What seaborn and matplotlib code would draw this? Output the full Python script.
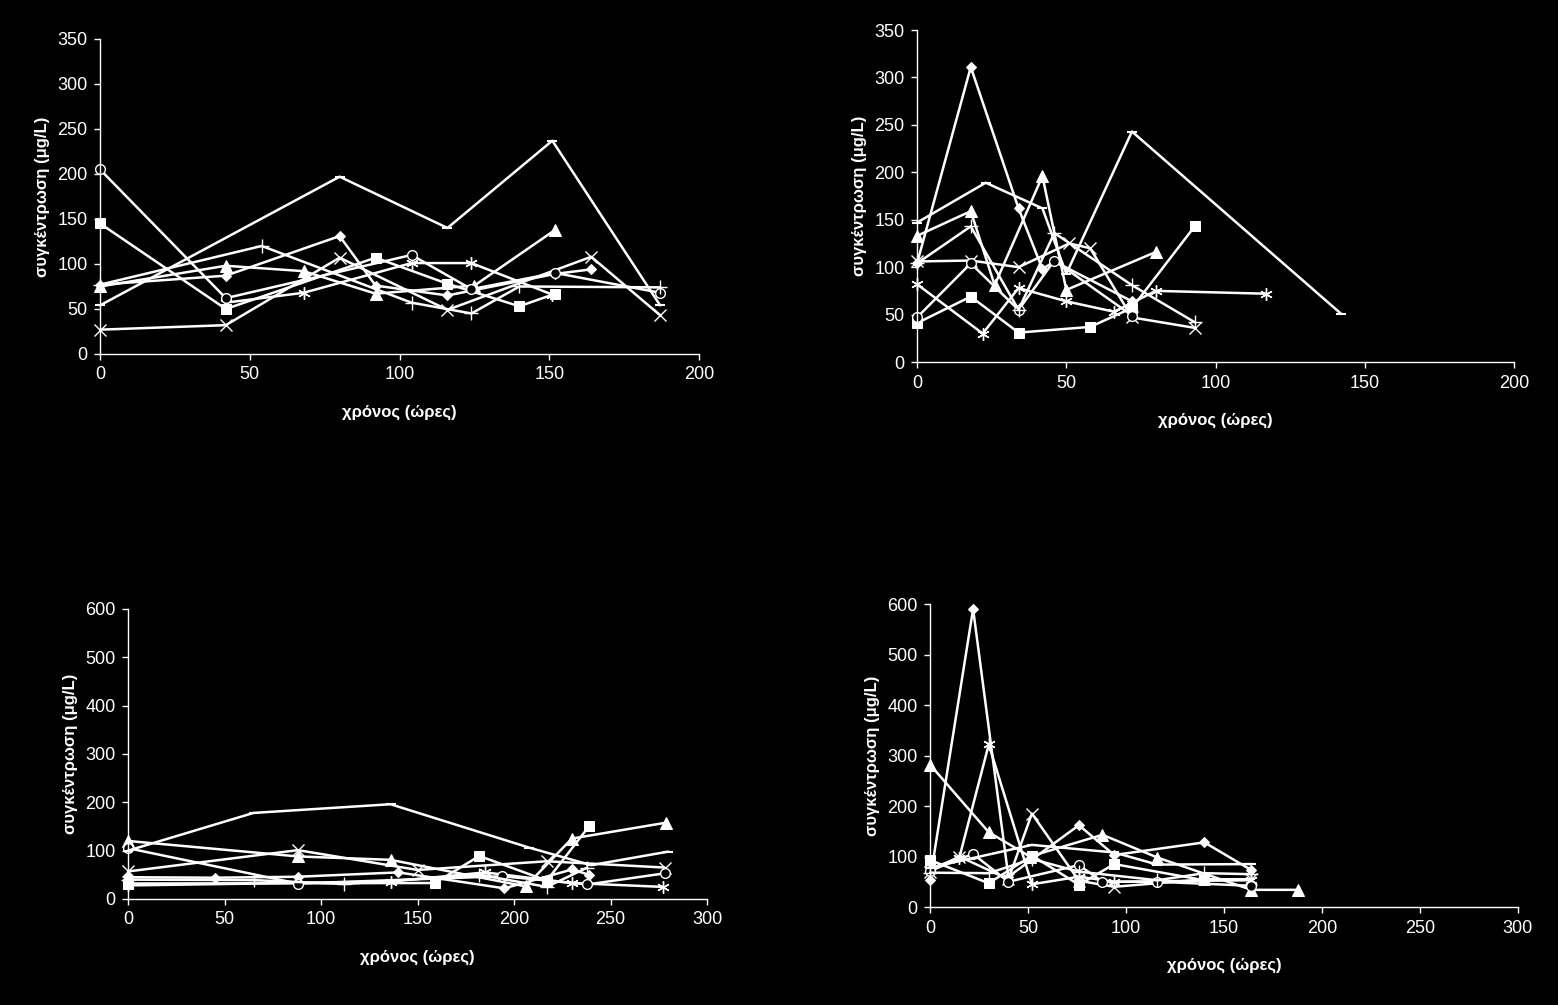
import matplotlib
matplotlib.use('Agg')
import matplotlib.pyplot as plt
import seaborn as sns

sns.set_style('dark')
plt.rcParams['font.family'] = ['Liberation Sans', 'DejaVu Sans']

# ---- panel 1 (top left) : time (h), concentration (ug/L) ----
p1_diamond_t = [0, 42, 80, 92, 116, 152, 164]
p1_diamond_c = [77, 87, 131, 76, 65, 89, 94]
p1_square_t = [0, 42, 92, 116, 140, 152]
p1_square_c = [145, 50, 107, 78, 53, 67]
p1_triangle_t = [0, 42, 68, 92, 125, 152]
p1_triangle_c = [75, 98, 92, 67, 76, 138]
p1_x_t = [0, 42, 80, 116, 164, 187]
p1_x_c = [27, 32, 107, 49, 108, 43]
p1_asterisk_t = [42, 68, 104, 124, 151]
p1_asterisk_c = [57, 68, 101, 101, 66]
p1_circle_t = [0, 42, 104, 124, 152, 187]
p1_circle_c = [205, 62, 110, 72, 90, 68]
p1_plus_t = [0, 54, 104, 124, 140, 187]
p1_plus_c = [77, 120, 57, 45, 75, 74]
p1_dash_t = [0, 80, 116, 151, 187]
p1_dash_c = [54, 197, 140, 237, 54]

# ---- panel 2 (top right) ----
p2_diamond_t = [0, 18, 34, 42, 46, 72]
p2_diamond_c = [104, 311, 162, 98, 106, 64]
p2_square_t = [0, 18, 34, 58, 72, 93]
p2_square_c = [41, 69, 31, 37, 57, 143]
p2_triangle_t = [0, 18, 26, 42, 50, 80]
p2_triangle_c = [133, 159, 81, 196, 76, 116]
p2_x_t = [0, 18, 34, 51, 58, 72, 93]
p2_x_c = [106, 107, 100, 125, 120, 47, 36]
p2_asterisk_t = [0, 22, 34, 50, 66, 80, 117]
p2_asterisk_c = [82, 30, 78, 64, 53, 75, 72]
p2_circle_t = [0, 18, 34, 46, 72]
p2_circle_c = [47, 104, 55, 107, 49]
p2_plus_t = [0, 18, 34, 46, 72, 93]
p2_plus_c = [104, 143, 55, 136, 81, 42]
p2_dash_t = [0, 23, 42, 50, 72, 142]
p2_dash_c = [147, 189, 162, 93, 243, 51]

# ---- panel 3 (bottom left) ----
p3_diamond_t = [0, 45, 88, 140, 195, 230, 239]
p3_diamond_c = [45, 44, 46, 55, 22, 61, 50]
p3_square_t = [0, 159, 182, 217, 239]
p3_square_c = [32, 33, 89, 38, 151]
p3_triangle_t = [0, 88, 136, 206, 230, 279]
p3_triangle_c = [120, 88, 81, 26, 125, 158]
p3_x_t = [0, 88, 150, 217, 278]
p3_x_c = [57, 101, 60, 78, 65]
p3_asterisk_t = [0, 136, 185, 230, 277]
p3_asterisk_c = [28, 36, 55, 33, 25]
p3_circle_t = [0, 88, 194, 238, 278]
p3_circle_c = [105, 32, 47, 30, 53]
p3_plus_t = [0, 65, 112, 182, 217, 238]
p3_plus_c = [40, 39, 31, 50, 25, 65]
p3_dash_t = [0, 65, 136, 208, 240, 280]
p3_dash_c = [100, 178, 196, 106, 70, 98]

# ---- panel 4 (bottom right) ----
p4_diamond_t = [0, 22, 40, 76, 94, 140, 164]
p4_diamond_c = [53, 590, 60, 162, 103, 128, 73]
p4_square_t = [0, 30, 52, 76, 94, 140]
p4_square_c = [93, 47, 102, 44, 85, 53]
p4_triangle_t = [0, 30, 51, 88, 116, 164, 188]
p4_triangle_c = [282, 148, 100, 143, 98, 34, 34]
p4_x_t = [0, 15, 40, 52, 76, 94, 140, 164]
p4_x_c = [70, 100, 55, 185, 52, 40, 55, 55]
p4_asterisk_t = [0, 15, 30, 52, 76, 94, 164]
p4_asterisk_c = [75, 98, 322, 45, 60, 50, 53]
p4_circle_t = [0, 22, 40, 76, 88, 116, 164]
p4_circle_c = [72, 105, 50, 83, 50, 50, 42]
p4_plus_t = [0, 30, 52, 76, 116, 140, 164]
p4_plus_c = [68, 67, 95, 70, 53, 67, 65]
p4_dash_t = [0, 52, 94, 116, 164]
p4_dash_c = [78, 123, 108, 84, 85]

x_label = 'χρόνος (ώρες)'
y_label = 'συγκέντρωση (μg/L)'

# marker styles (Excel look)
styles = {
    'diamond': dict(marker='D', markersize=5.5),
    'square': dict(marker='s', markersize=7),
    'triangle': dict(marker='^', markersize=8),
    'x': dict(marker='x', markersize=8, markeredgewidth=1),
    'asterisk': dict(marker=(6, 2, 0), markersize=9, markeredgewidth=1),
    'circle': dict(marker='o', markersize=7, markeredgewidth=1, markerfacecolor='black'),
    'plus': dict(marker='+', markersize=10, markeredgewidth=1),
    'dash': dict(marker='_', markersize=7, markeredgewidth=1.5),
}

panels = [
    dict(rect=[0.0642, 0.6478, 0.3845, 0.3134], xmax=200, ymax=350, ystep=50,
         series=[('diamond', p1_diamond_t, p1_diamond_c), ('square', p1_square_t, p1_square_c),
                 ('triangle', p1_triangle_t, p1_triangle_c), ('x', p1_x_t, p1_x_c),
                 ('asterisk', p1_asterisk_t, p1_asterisk_c), ('circle', p1_circle_t, p1_circle_c),
                 ('plus', p1_plus_t, p1_plus_c), ('dash', p1_dash_t, p1_dash_c)]),
    dict(rect=[0.5886, 0.6398, 0.3832, 0.3303], xmax=200, ymax=350, ystep=50,
         series=[('diamond', p2_diamond_t, p2_diamond_c), ('square', p2_square_t, p2_square_c),
                 ('triangle', p2_triangle_t, p2_triangle_c), ('x', p2_x_t, p2_x_c),
                 ('asterisk', p2_asterisk_t, p2_asterisk_c), ('circle', p2_circle_t, p2_circle_c),
                 ('plus', p2_plus_t, p2_plus_c), ('dash', p2_dash_t, p2_dash_c)]),
    dict(rect=[0.0822, 0.1055, 0.3716, 0.2886], xmax=300, ymax=600, ystep=100,
         series=[('diamond', p3_diamond_t, p3_diamond_c), ('square', p3_square_t, p3_square_c),
                 ('triangle', p3_triangle_t, p3_triangle_c), ('x', p3_x_t, p3_x_c),
                 ('asterisk', p3_asterisk_t, p3_asterisk_c), ('circle', p3_circle_t, p3_circle_c),
                 ('plus', p3_plus_t, p3_plus_c), ('dash', p3_dash_t, p3_dash_c)]),
    dict(rect=[0.5969, 0.0975, 0.3774, 0.3015], xmax=300, ymax=600, ystep=100,
         series=[('diamond', p4_diamond_t, p4_diamond_c), ('square', p4_square_t, p4_square_c),
                 ('triangle', p4_triangle_t, p4_triangle_c), ('x', p4_x_t, p4_x_c),
                 ('asterisk', p4_asterisk_t, p4_asterisk_c), ('circle', p4_circle_t, p4_circle_c),
                 ('plus', p4_plus_t, p4_plus_c), ('dash', p4_dash_t, p4_dash_c)]),
]

fig = plt.figure(figsize=(15.58, 10.05), dpi=100, facecolor='black')

for p in panels:
    ax = fig.add_axes(p['rect'])
    ax.set_facecolor('black')
    for name, t, c in p['series']:
        sns.lineplot(x=t, y=c, ax=ax, color='white', linewidth=1.8, sort=False,
                     estimator=None, markeredgecolor='white', **styles[name])
    ax.set_xlim(0, p['xmax'])
    ax.set_ylim(0, p['ymax'])
    ax.set_xticks(range(0, p['xmax'] + 1, 50))
    ax.set_yticks(range(0, p['ymax'] + 1, p['ystep']))
    ax.grid(False)
    for side in ['top', 'right']:
        ax.spines[side].set_visible(False)
    for side in ['left', 'bottom']:
        ax.spines[side].set_color('white')
        ax.spines[side].set_linewidth(1)
    ax.tick_params(colors='white', labelsize=13, length=4, width=1, direction='out',
                   bottom=True, left=True, pad=5)
    ax.set_xlabel(x_label, color='white', fontsize=12, fontweight='bold', labelpad=15)
    ax.set_ylabel(y_label, color='white', fontsize=12, fontweight='bold', labelpad=5)
    for line in ax.lines:
        line.set_clip_on(False)

plt.savefig('out.png', dpi=100, facecolor='black')
